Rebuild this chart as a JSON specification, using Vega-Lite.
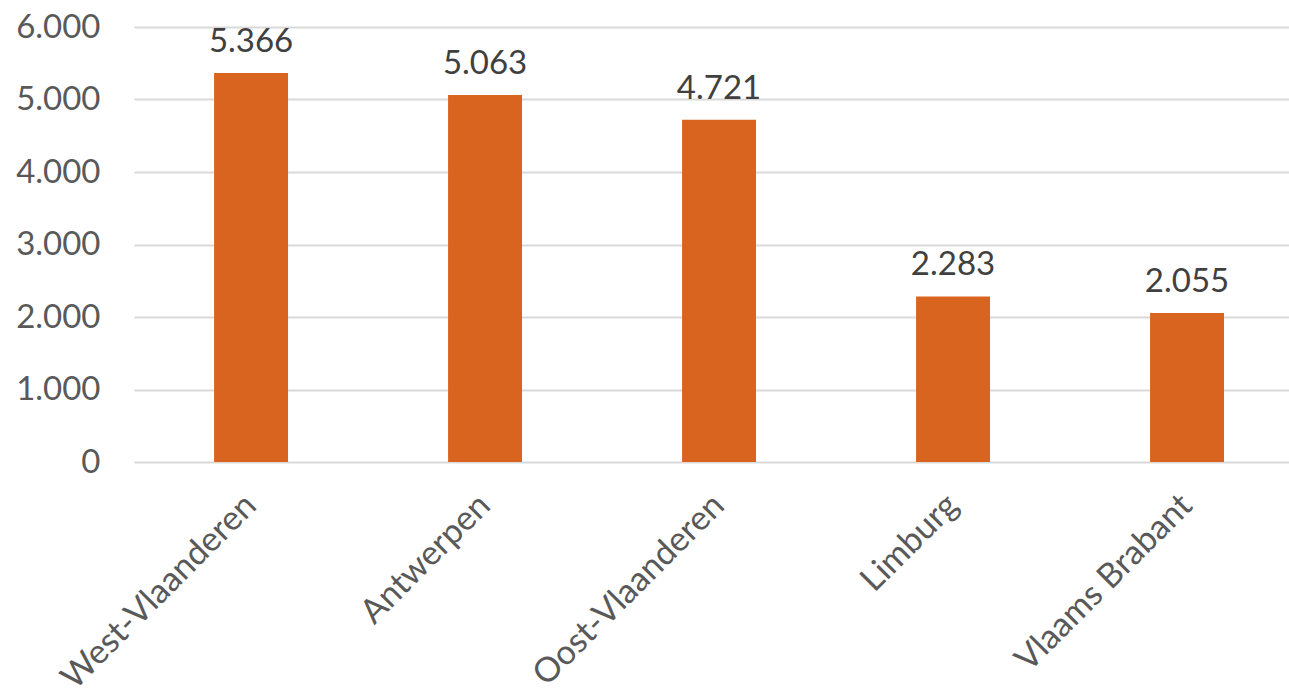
{
  "$schema": "https://vega.github.io/schema/vega-lite/v6.json",
  "autosize": "none",
  "width": 1155,
  "height": 435,
  "padding": {"left": 134, "top": 27, "right": 0, "bottom": 232},
  "background": "white",
  "data": {
    "values": [
      {"provincie": "West-Vlaanderen", "aantal": 5366},
      {"provincie": "Antwerpen", "aantal": 5063},
      {"provincie": "Oost-Vlaanderen", "aantal": 4721},
      {"provincie": "Limburg", "aantal": 2283},
      {"provincie": "Vlaams Brabant", "aantal": 2055}
    ]
  },
  "encoding": {
    "x": {
      "field": "provincie", "type": "nominal", "sort": null,
      "scale": {"paddingInner": 0.684, "paddingOuter": 0.31, "align": 0.552},
      "axis": {
        "title": null, "domain": false, "ticks": false, "grid": false,
        "labelAngle": -45, "labelAlign": "right", "labelBaseline": "middle",
        "labelPadding": 38, "labelFont": "Lato", "labelFontSize": 34,
        "labelColor": "#595959", "labelLimit": 500, "labelOverlap": false
      }
    },
    "y": {
      "field": "aantal", "type": "quantitative",
      "scale": {"domain": [0, 6000], "nice": false},
      "axis": {
        "title": null, "domain": false, "ticks": false,
        "values": [0, 1000, 2000, 3000, 4000, 5000, 6000],
        "format": ",d", "labelPadding": 34, "labelFont": "Lato",
        "labelFontSize": 33, "labelColor": "#595959",
        "gridColor": "#D9D9D9", "gridWidth": 2
      }
    }
  },
  "layer": [
    {"mark": {"type": "bar", "color": "#D9641F"}},
    {
      "mark": {"type": "text", "baseline": "bottom", "dy": -14, "font": "Lato", "fontSize": 33, "color": "#404040"},
      "encoding": {"text": {"field": "aantal", "type": "quantitative", "format": ",d"}}
    }
  ],
  "config": {
    "view": {"stroke": null},
    "locale": {"number": {"decimal": ",", "thousands": ".", "grouping": [3], "currency": ["€", ""]}}
  }
}
